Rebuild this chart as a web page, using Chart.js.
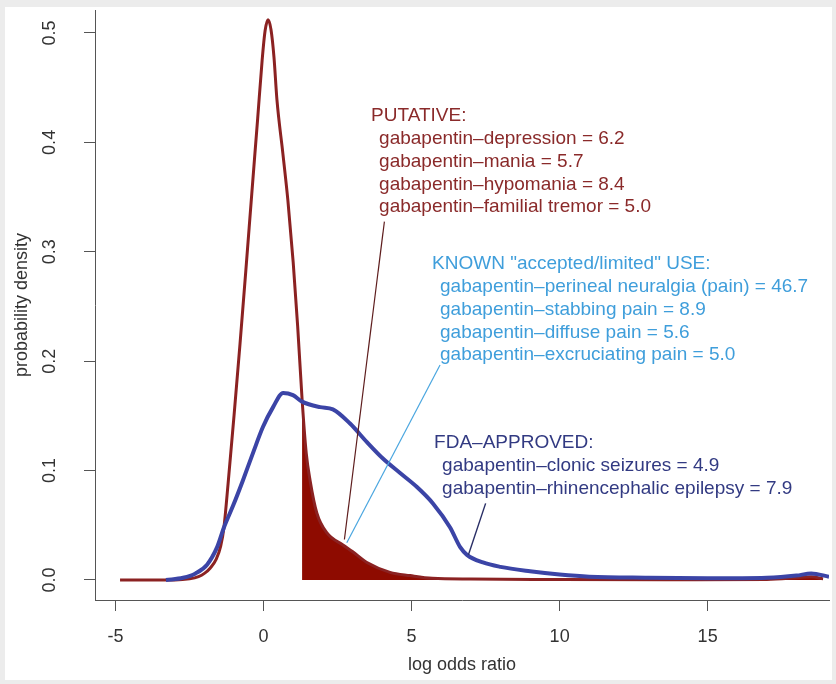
<!DOCTYPE html>
<html><head><meta charset="utf-8">
<script src="https://cdn.jsdelivr.net/npm/chart.js@4.4.1/dist/chart.umd.min.js"></script>
<style>
html,body{margin:0;padding:0;background:#fff;}
#wrap{width:836px;height:684px;position:relative;}
</style></head><body><div id="wrap"><canvas id="c" width="836" height="684"></canvas></div>
<script>
// ---- data ----
const xTicks = [-5, 0, 5, 10, 15];
const yTicks = [0, 0.1, 0.2, 0.3, 0.4, 0.5];

const putativeX = [-4.85,-3,-2.5,-2.2,-2,-1.8,-1.6,-1.45,-1.34,-1.2,-1,-0.8,-0.6,-0.4,-0.2,-0.05,0.05,0.15,0.25,0.35,0.45,0.65,0.82,1.0,1.15,1.3,1.44,1.57,1.8,2.14,2.68,3.0,3.49,4.27,4.95,5.7,7,10,14,17,18,18.5,18.9];
const putativeY = [0,0,0.001,0.003,0.006,0.011,0.019,0.031,0.048,0.088,0.150,0.215,0.283,0.353,0.422,0.475,0.502,0.512,0.503,0.478,0.439,0.390,0.347,0.290,0.232,0.165,0.116,0.091,0.061,0.043,0.032,0.026,0.016,0.007,0.004,0.0015,0.0008,0.0005,0.0003,0.0005,0.002,0.003,0.001];

const allX = [-3.3,-2.72,-2.3,-1.91,-1.57,-1.34,-1.03,-0.70,-0.36,-0.02,0.32,0.66,0.99,1.30,1.91,2.34,2.92,3.49,4.03,4.6,5.18,5.72,6.3,6.64,6.87,7.41,8.0,9,10,11,13,15,17,18,18.5,19.1];
const allY = [0,0.002,0.006,0.014,0.030,0.048,0.068,0.091,0.116,0.140,0.158,0.171,0.169,0.163,0.158,0.156,0.143,0.126,0.111,0.098,0.085,0.070,0.048,0.030,0.023,0.016,0.012,0.008,0.005,0.003,0.002,0.0015,0.002,0.004,0.006,0.003];

const tailStart = 1.3;

const putativeLabels = ["PUTATIVE:", "gabapentin\u2013depression = 6.2", "gabapentin\u2013mania = 5.7", "gabapentin\u2013hypomania = 8.4", "gabapentin\u2013familial tremor = 5.0"];
const knownLabels = ["KNOWN \"accepted/limited\" USE:", "gabapentin\u2013perineal neuralgia (pain) = 46.7", "gabapentin\u2013stabbing pain = 8.9", "gabapentin\u2013diffuse pain = 5.6", "gabapentin\u2013excruciating pain = 5.0"];
const fdaLabels = ["FDA\u2013APPROVED:", "gabapentin\u2013clonic seizures = 4.9", "gabapentin\u2013rhinencephalic epilepsy = 7.9"];

// pointer segments (data coordinates)
const putativePointer = [[2.73, 0.037], [4.08, 0.3275]];
const knownPointer = [[2.81, 0.034], [5.96, 0.1965]];
const fdaPointer = [[6.92, 0.023], [7.5, 0.070]];

// ---- styles / layout ----
const RED_LINE = '#8b2222';
const RED_FILL = '#8e0b00';
const BLUE_LINE = '#3b44a6';
const C_PUT = '#8a2a2a';
const C_KNOWN = '#3f9edb';
const C_FDA = '#323a82';
const FONT = '"Liberation Sans", Arial, Helvetica, sans-serif';
const blocks = [
  {labels: putativeLabels, x: 3.63, y: 0.4241, color: C_PUT},
  {labels: knownLabels, x: 5.69, y: 0.2888, color: C_KNOWN},
  {labels: fdaLabels, x: 5.76, y: 0.1252, color: C_FDA}
];
const INDENT = 8, LINE_H = 22.8, ANNO_SIZE = 19;

const pts = (xs, ys) => xs.map((x, i) => ({x, y: ys[i]}));
const tail = pts(putativeX, putativeY).filter(p => p.x >= tailStart);
const seg = s => s.map(([x, y]) => ({x, y}));

const framePlugin = {
  id: 'frame',
  beforeDraw(chart) {
    const ctx = chart.ctx;
    ctx.save();
    ctx.fillStyle = '#ececec';
    ctx.fillRect(0, 0, chart.width, chart.height);
    ctx.fillStyle = '#ffffff';
    ctx.fillRect(5, 7, chart.width - 9, chart.height - 11);
    ctx.restore();
  }
};

const annoPlugin = {
  id: 'anno',
  afterDatasetsDraw(chart) {
    const ctx = chart.ctx, xs = chart.scales.x, ys = chart.scales.y;
    ctx.save();
    ctx.font = ANNO_SIZE + 'px ' + FONT;
    ctx.textBaseline = 'middle';
    ctx.textAlign = 'left';
    blocks.forEach(b => {
      const x0 = xs.getPixelForValue(b.x), y0 = ys.getPixelForValue(b.y);
      ctx.fillStyle = b.color;
      b.labels.forEach((t, i) => {
        ctx.fillText(t, x0 + (i ? INDENT : 0), y0 + i * LINE_H);
      });
    });
    ctx.restore();
  }
};

new Chart(document.getElementById('c'), {
  type: 'line',
  data: {
    datasets: [
      {data: seg(putativePointer), borderColor: '#5e1d1d', borderWidth: 1.2, pointRadius: 0, fill: false},
      {data: seg(knownPointer), borderColor: '#4aa6e0', borderWidth: 1.2, pointRadius: 0, fill: false},
      {data: seg(fdaPointer), borderColor: '#2a2f66', borderWidth: 1.4, pointRadius: 0, fill: false},
      {data: pts(allX, allY), borderColor: BLUE_LINE, borderWidth: 4, pointRadius: 0, fill: false, cubicInterpolationMode: 'monotone'},
      {data: pts(putativeX, putativeY), borderColor: RED_LINE, borderWidth: 3, pointRadius: 0, fill: false, cubicInterpolationMode: 'monotone'},
      {data: tail, borderWidth: 0, borderColor: 'rgba(0,0,0,0)', backgroundColor: RED_FILL, pointRadius: 0, fill: 'origin', cubicInterpolationMode: 'monotone'}
    ]
  },
  options: {
    responsive: false,
    animation: false,
    events: [],
    layout: {padding: {left: 0, right: 7, top: 10, bottom: 0}},
    plugins: {legend: {display: false}, tooltip: {enabled: false}},
    scales: {
      x: {
        type: 'linear',
        min: -5.696, max: 19.10,
        afterBuildTicks: s => { s.ticks = xTicks.map(v => ({value: v})); },
        afterFit: s => { s.height = 84; s.paddingLeft = 0; s.paddingRight = 0; },
        grid: {display: true, drawOnChartArea: false, drawTicks: true, tickLength: 11, color: '#555', lineWidth: 1},
        border: {display: true, color: '#555', width: 1},
        ticks: {font: {family: FONT, size: 18}, color: '#333', padding: 15, maxRotation: 0, autoSkip: false},
        title: {display: true, text: 'log odds ratio', font: {family: FONT, size: 18}, color: '#333', padding: {top: 0, bottom: 8}}
      },
      y: {
        type: 'linear',
        min: -0.0183, max: 0.521,
        afterBuildTicks: s => { s.ticks = yTicks.map(v => ({value: v})); },
        afterFit: s => { s.width = 95; s.paddingTop = 0; s.paddingBottom = 0; },
        grid: {display: true, drawOnChartArea: false, drawTicks: true, tickLength: 11, color: '#555', lineWidth: 1},
        border: {display: true, color: '#555', width: 1},
        ticks: {font: {family: FONT, size: 18}, color: '#333', padding: 21, minRotation: 90, maxRotation: 90, crossAlign: 'center', autoSkip: false,
                callback: v => Number(v).toFixed(1)},
        title: {display: true, text: 'probability density', font: {family: FONT, size: 18}, color: '#333', padding: {top: 11, bottom: 0}}
      }
    }
  },
  plugins: [framePlugin, annoPlugin]
});
</script></body></html>
